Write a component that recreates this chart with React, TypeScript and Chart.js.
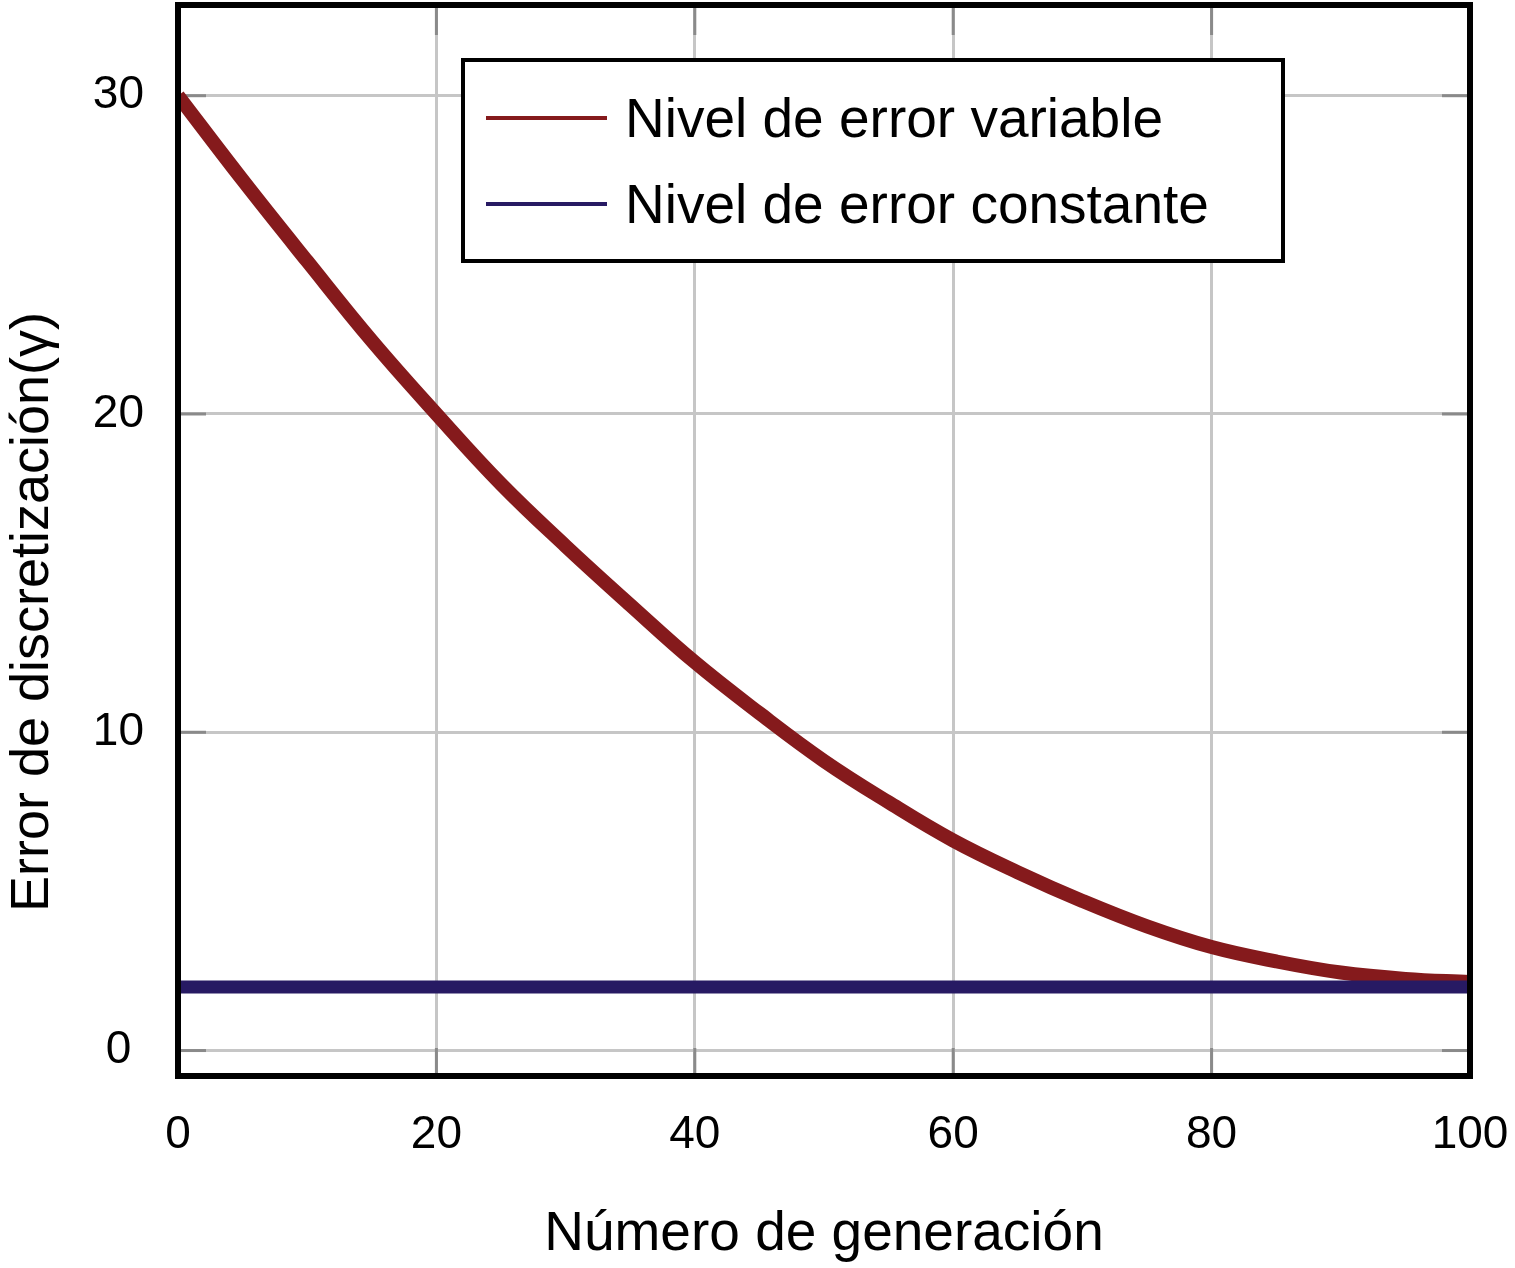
import { useEffect, useRef } from "react";
import { Chart, registerables } from "chart.js";

Chart.register(...registerables);

// ---- data ----
const generations = [0, 5, 10, 15, 20, 25, 30, 35, 40, 45, 50, 55, 60, 65, 70, 75, 80, 85, 90, 95, 100];
const variableError = [30, 27.35, 24.8, 22.3, 20.0, 17.8, 15.85, 14.0, 12.2, 10.6, 9.1, 7.8, 6.6, 5.6, 4.7, 3.9, 3.25, 2.8, 2.45, 2.25, 2.15];
const constantError = [2.0, 2.0, 2.0, 2.0, 2.0, 2.0, 2.0, 2.0, 2.0, 2.0, 2.0, 2.0, 2.0, 2.0, 2.0, 2.0, 2.0, 2.0, 2.0, 2.0, 2.0];
const seriesLabels = ["Nivel de error variable", "Nivel de error constante"];
const seriesColors = ["#851a1c", "#271a63"];
const xTicks = [0, 20, 40, 60, 80, 100];
const yTicks = [0, 10, 20, 30];
const xTitle = "Número de generación";
const yTitle = "Error de discretización(γ)";

const FONT = "'Liberation Sans', Arial, Helvetica, sans-serif";

const framePlugin = {
  id: "frame",
  beforeDatasetsDraw(chart: any) {
    const { ctx, chartArea, scales } = chart;
    const { left, right, top, bottom } = chartArea;
    ctx.save();
    ctx.strokeStyle = "#8a8a8a";
    ctx.lineWidth = 3;
    const seg = (x1: number, y1: number, x2: number, y2: number) => {
      ctx.beginPath();
      ctx.moveTo(x1, y1);
      ctx.lineTo(x2, y2);
      ctx.stroke();
    };
    yTicks.forEach((v) => {
      const py = scales.y.getPixelForValue(v);
      seg(left, py, left + 28, py);
      seg(right - 28, py, right, py);
    });
    xTicks.forEach((v) => {
      const px = scales.x.getPixelForValue(v);
      seg(px, top, px, top + 30);
      seg(px, bottom - 28, px, bottom);
    });
    ctx.restore();
  },
  afterDatasetsDraw(chart: any) {
    const { ctx, chartArea } = chart;
    const { left, right, top, bottom } = chartArea;
    ctx.save();
    // legend box
    const lx = 463, ly = 60, lw = 820, lh = 201;
    ctx.fillStyle = "#ffffff";
    ctx.fillRect(lx, ly, lw, lh);
    ctx.strokeStyle = "#000";
    ctx.lineWidth = 4;
    ctx.strokeRect(lx, ly, lw, lh);
    ctx.font = `55px ${FONT}`;
    ctx.textAlign = "left";
    ctx.textBaseline = "alphabetic";
    seriesLabels.forEach((label, i) => {
      const yy = 118 + i * 86;
      ctx.strokeStyle = seriesColors[i];
      ctx.lineWidth = 4;
      ctx.beginPath();
      ctx.moveTo(486, yy);
      ctx.lineTo(607, yy);
      ctx.stroke();
      ctx.fillStyle = "#000";
      ctx.fillText(label, 625, yy + 19);
    });
    // frame
    ctx.strokeStyle = "#000";
    ctx.lineWidth = 6;
    ctx.strokeRect(left, top, right - left, bottom - top);
    // y title
    ctx.translate(33, 612);
    ctx.rotate(-Math.PI / 2);
    ctx.font = `54px ${FONT}`;
    ctx.textAlign = "center";
    ctx.textBaseline = "middle";
    ctx.fillStyle = "#000";
    ctx.fillText(yTitle, 0, 0);
    ctx.restore();
  },
};

export default function App() {
  const canvasRef = useRef<HTMLCanvasElement | null>(null);

  useEffect(() => {
    if (!canvasRef.current) return;
    const chart = new Chart(canvasRef.current, {
      type: "line",
      data: {
        datasets: [
          {
            label: seriesLabels[0],
            data: generations.map((g, i) => ({ x: g, y: variableError[i] })),
            borderColor: seriesColors[0],
            backgroundColor: seriesColors[0],
            borderWidth: 14,
            tension: 0.4,
            pointRadius: 0,
            order: 2,
          },
          {
            label: seriesLabels[1],
            data: generations.map((g, i) => ({ x: g, y: constantError[i] })),
            borderColor: seriesColors[1],
            backgroundColor: seriesColors[1],
            borderWidth: 13,
            pointRadius: 0,
            order: 1,
          },
        ],
      },
      options: {
        responsive: false,
        animation: false,
        devicePixelRatio: 1,
        layout: { padding: { top: 5, right: 45, bottom: 0, left: 0 } },
        plugins: {
          legend: { display: false },
          tooltip: { enabled: false },
        },
        scales: {
          x: {
            type: "linear",
            min: 0,
            max: 100,
            afterFit: (s: any) => {
              s.height = 192;
              s.paddingLeft = 0;
              s.paddingRight = 0;
              s.paddingTop = 0;
              s.paddingBottom = 0;
            },
            afterBuildTicks: (s: any) => {
              s.ticks = xTicks.map((v) => ({ value: v }));
            },
            grid: { color: "#c6c6c6", lineWidth: 3, drawTicks: false },
            border: { display: false },
            ticks: {
              color: "#000",
              font: { family: FONT, size: 46 },
              padding: 32,
              maxRotation: 0,
              autoSkip: false,
            },
            title: {
              display: true,
              text: xTitle,
              color: "#000",
              font: { family: FONT, size: 55, lineHeight: 1.2 },
              padding: { top: 0, bottom: 0 },
            },
          },
          y: {
            type: "linear",
            min: -0.8,
            max: 32.85,
            afterFit: (s: any) => {
              s.width = 178;
              s.paddingLeft = 0;
              s.paddingRight = 0;
              s.paddingTop = 0;
              s.paddingBottom = 0;
            },
            afterBuildTicks: (s: any) => {
              s.ticks = yTicks.map((v) => ({ value: v }));
            },
            grid: { color: "#c6c6c6", lineWidth: 3, drawTicks: false },
            border: { display: false },
            ticks: {
              color: "#000",
              font: { family: FONT, size: 46 },
              padding: 34,
              crossAlign: "center",
            },
          },
        },
      },
      plugins: [framePlugin],
    } as any);
    return () => chart.destroy();
  }, []);

  return (
    <div style={{ position: "absolute", left: 0, top: 0, width: 1515, height: 1268, background: "#fff" }}>
      <canvas ref={canvasRef} width={1515} height={1268} style={{ display: "block" }} />
    </div>
  );
}
